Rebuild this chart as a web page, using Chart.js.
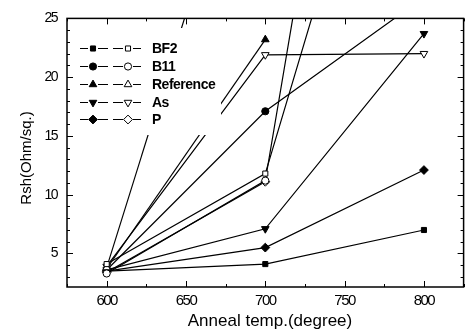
<!DOCTYPE html>
<html><head><meta charset="utf-8">
<script src="https://cdn.jsdelivr.net/npm/chart.js@4/dist/chart.umd.min.js"></script>
<style>html,body{margin:0;padding:0;background:#fff}canvas{display:block}</style>
</head><body>
<canvas id="c" width="469" height="333"></canvas>
<script>
const temps = [600, 700, 800];
const seriesNames = ['BF2', 'B11', 'Reference', 'As', 'P'];
const bf2Filled = [3.5, 4.1, 7.0];
const b11Filled = [3.6, 17.1, 26.8];
const refFilled = [3.7, 23.2, null];
const asFilled  = [3.6, 7.1, 23.7];
const pFilled   = [3.5, 5.5, 12.1];
const bf2Open   = [4.1, 11.8, 57];
const b11Open   = [3.3, 11.2, 91];
const refOpen   = [3.8, 47, null];
const asOpen    = [3.9, 21.9, 22.0];
const pOpen     = [3.4, 11.1, null];
const xTicks = [600, 650, 700, 750, 800];
const yTicks = [5, 10, 15, 20, 25];

const styles = [
  {style:'rect', rot:0, r:3.6},
  {style:'circle', rot:0, r:3.6},
  {style:'triangle', rot:0, r:4.4},
  {style:'triangle', rot:180, r:4.4},
  {style:'rectRot', rot:0, r:4.4}
];
const filledSets = [bf2Filled, b11Filled, refFilled, asFilled, pFilled];
const openSets = [bf2Open, b11Open, refOpen, asOpen, pOpen];

function mk(vals, i, open) {
  const s = styles[i];
  return {
    label: seriesNames[i] + (open ? ' open' : ''),
    data: temps.map((t, k) => ({x: t, y: vals[k]})),
    borderColor: '#000', borderWidth: 1.2,
    pointStyle: s.style, rotation: s.rot, pointRadius: s.r,
    pointBackgroundColor: open ? '#fff' : '#000',
    pointBorderColor: '#000', pointBorderWidth: 1,
    spanGaps: false, tension: 0
  };
}
const datasets = [];
for (let i = 0; i < 5; i++) { datasets.push(mk(openSets[i], i, true)); }
for (let i = 0; i < 5; i++) { datasets.push(mk(filledSets[i], i, false)); }

const spacingPlugin = {
  id: 'spacing',
  beforeDraw(chart) { chart.ctx.letterSpacing = '-1.5px'; },
  afterDraw(chart) { chart.ctx.letterSpacing = '0px'; }
};

const framePlugin = {
  id: 'frame',
  afterDatasetsDraw(chart) {
    const {ctx, chartArea: a, scales: {x, y}} = chart;
    ctx.save();
    // legend box
    ctx.fillStyle = '#fff';
    ctx.fillRect(70, 28, 151, 107);
    const rows = [48, 66, 84, 102, 119];
    ctx.strokeStyle = '#000'; ctx.lineWidth = 1;
    ctx.font = 'bold 14px "Liberation Sans", Arial, sans-serif';
    ctx.letterSpacing = '-0.5px';
    ctx.textBaseline = 'middle';
    rows.forEach((ry, i) => {
      const s = styles[i];
      ctx.beginPath();
      ctx.moveTo(80, ry + 0.5); ctx.lineTo(88, ry + 0.5);
      ctx.moveTo(98, ry + 0.5); ctx.lineTo(108, ry + 0.5);
      ctx.moveTo(113, ry + 0.5); ctx.lineTo(123, ry + 0.5);
      ctx.moveTo(133, ry + 0.5); ctx.lineTo(141, ry + 0.5);
      ctx.stroke();
      const opt = {pointStyle: s.style, rotation: s.rot, radius: s.r, borderWidth: 1};
      ctx.fillStyle = '#000';
      Chart.helpers.drawPoint(ctx, opt, 93, ry + 0.5);
      ctx.fillStyle = '#fff';
      Chart.helpers.drawPoint(ctx, opt, 128, ry + 0.5);
      ctx.fillStyle = '#000';
      ctx.fillText(seriesNames[i], 152, ry + 1);
    });
    // frame
    ctx.strokeStyle = '#000'; ctx.lineWidth = 1.5;
    ctx.strokeRect(a.left, a.top, a.right - a.left, a.bottom - a.top);
    ctx.lineWidth = 1;
    ctx.beginPath();
    for (let v = 575; v <= 825; v += 25) {
      const px = Math.round(x.getPixelForValue(v)) + 0.5;
      const len = (v % 50 === 0) ? 6 : 3;
      ctx.moveTo(px, a.bottom); ctx.lineTo(px, a.bottom - len);
      ctx.moveTo(px, a.top); ctx.lineTo(px, a.top + len);
    }
    for (let v = 3; v <= 25; v += 1) {
      const py = Math.round(y.getPixelForValue(v)) + 0.5;
      const len = (v % 5 === 0) ? 6 : 3;
      ctx.moveTo(a.left, py); ctx.lineTo(a.left + len, py);
      ctx.moveTo(a.right, py); ctx.lineTo(a.right - len, py);
    }
    ctx.stroke();
    // axis titles
    ctx.fillStyle = '#000';
    ctx.letterSpacing = '0px';
    ctx.font = '17px "Liberation Sans", Arial, sans-serif';
    ctx.textAlign = 'center'; ctx.textBaseline = 'middle';
    ctx.fillText('Anneal temp.(degree)', 270, 321);
    ctx.translate(27, 158);
    ctx.rotate(-Math.PI / 2);
    ctx.font = '15px "Liberation Sans", Arial, sans-serif';
    ctx.fillText('Rsh(Ohm/sq.)', 0, 0);
    ctx.restore();
    ctx.letterSpacing = '-1.5px';
  }
};

new Chart(document.getElementById('c'), {
  type: 'line',
  data: {datasets},
  options: {
    responsive: false, animation: false, devicePixelRatio: 1,
    layout: {padding: {top: 15, right: 2, left: 0, bottom: 0}},
    plugins: {legend: {display: false}, tooltip: {enabled: false}},
    scales: {
      x: {
        type: 'linear', min: 575, max: 825,
        afterBuildTicks: s => { s.ticks = xTicks.map(v => ({value: v})); },
        afterFit: s => { s.height = 46; },
        grid: {display: false, drawTicks: false}, border: {display: false},
        ticks: {color: '#000', padding: 5, maxRotation: 0,
          font: {family: '"Liberation Sans", Arial', size: 15}}
      },
      y: {
        type: 'linear', min: 2.15, max: 25,
        afterBuildTicks: s => { s.ticks = yTicks.map(v => ({value: v})); },
        afterFit: s => { s.width = 67; },
        grid: {display: false, drawTicks: false}, border: {display: false},
        ticks: {color: '#000', padding: 10,
          font: {family: '"Liberation Sans", Arial', size: 14}}
      }
    }
  },
  plugins: [spacingPlugin, framePlugin]
});
</script>
</body></html>
